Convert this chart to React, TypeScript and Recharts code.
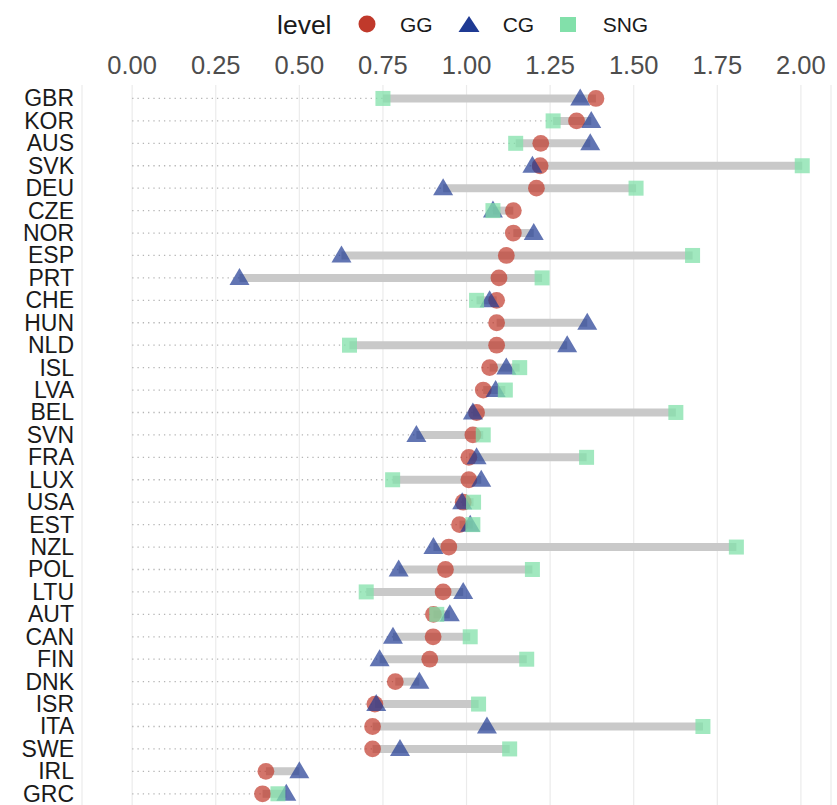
import React from 'react'
import {
  CartesianGrid,
  Scatter,
  ScatterChart,
  XAxis,
  YAxis,
} from 'recharts'

// countries top -> bottom, ordered by GG
const countries = [
  'GBR', 'KOR', 'AUS', 'SVK', 'DEU', 'CZE', 'NOR', 'ESP', 'PRT', 'CHE', 'HUN',
  'NLD', 'ISL', 'LVA', 'BEL', 'SVN', 'FRA', 'LUX', 'USA', 'EST', 'NZL', 'POL',
  'LTU', 'AUT', 'CAN', 'FIN', 'DNK', 'ISR', 'ITA', 'SWE', 'IRL', 'GRC',
]

const gg = [
  1.387, 1.329, 1.222, 1.22, 1.209, 1.14, 1.14, 1.119, 1.097, 1.09, 1.09,
  1.09, 1.069, 1.05, 1.03, 1.019, 1.007, 1.007, 0.99, 0.979, 0.947, 0.937,
  0.93, 0.901, 0.9, 0.89, 0.787, 0.726, 0.719, 0.719, 0.4, 0.39,
]

const cg = [
  1.34, 1.373, 1.37, 1.197, 0.93, 1.079, 1.201, 0.626, 0.321, 1.069, 1.361,
  1.301, 1.119, 1.087, 1.019, 0.85, 1.03, 1.044, 0.987, 1.011, 0.901, 0.797,
  0.99, 0.95, 0.78, 0.74, 0.859, 0.73, 1.061, 0.801, 0.5, 0.461,
]

// no SNG mark for NOR, HUN, DNK, IRL
const sng: (number | null)[] = [
  0.75, 1.259, 1.147, 2.004, 1.507, 1.079, null, 1.676, 1.226, 1.03, null,
  0.65, 1.159, 1.116, 1.626, 1.05, 1.359, 0.779, 1.021, 1.019, 1.807, 1.197,
  0.7, 0.911, 1.011, 1.18, null, 1.036, 1.707, 1.129, null, 0.436,
]

const xTicks = [0, 0.25, 0.5, 0.75, 1, 1.25, 1.5, 1.75, 2]

const GG_COLOR = '#C0392B'
const CG_COLOR = '#1F3A93'
const SNG_COLOR = '#82E0AA'
const FONT = '"Liberation Sans", Arial, sans-serif'

const toPoints = (vals: (number | null)[]) =>
  vals
    .map((v, i) => (v == null ? null : { x: v, y: i }))
    .filter(Boolean) as { x: number; y: number }[]

const ranges = countries.map((_, i) => {
  const vals = [gg[i], cg[i], sng[i]].filter((v) => v != null) as number[]
  return { lo: Math.min(...vals), hi: Math.max(...vals) }
})

const Empty = () => <g />

const CircleShape = (p: any) => (
  <circle cx={p.cx} cy={p.cy} r={8.4} fill={GG_COLOR} fillOpacity={0.7} />
)

const TriangleShape = (p: any) => (
  <polygon
    points={`${p.cx},${p.cy - 10} ${p.cx + 10},${p.cy + 7} ${p.cx - 10},${p.cy + 7}`}
    fill={CG_COLOR}
    fillOpacity={0.7}
  />
)

const SquareShape = (p: any) => (
  <rect
    x={p.cx - 7.5}
    y={p.cy - 7.5}
    width={15}
    height={15}
    fill={SNG_COLOR}
    fillOpacity={0.75}
  />
)

const XTick = (p: any) => (
  <text
    x={p.x}
    y={74}
    textAnchor="middle"
    fontSize={25.5}
    fontFamily={FONT}
    fill="#4d4d4d"
  >
    {p.payload.value.toFixed(2)}
  </text>
)

const YTick = (p: any) => (
  <text
    x={74}
    y={p.y}
    dy={8}
    textAnchor="end"
    fontSize={23}
    fontFamily={FONT}
    fill="#1a1a1a"
  >
    {countries[p.payload.value]}
  </text>
)

function LegendBar() {
  return (
    <svg
      width={837}
      height={45}
      style={{ position: 'absolute', left: 0, top: 0 }}
      fontFamily={FONT}
    >
      <text x={277} y={34} fontSize={26.5} fill="#1a1a1a">
        level
      </text>
      <circle cx={367} cy={24} r={8.5} fill={GG_COLOR} />
      <text x={400} y={32.3} fontSize={21} fill="#1a1a1a">
        GG
      </text>
      <polygon points="469,16 479.5,32 458.5,32" fill={CG_COLOR} />
      <text x={502.7} y={32.3} fontSize={21} fill="#1a1a1a">
        CG
      </text>
      <rect x={560} y={17} width={16} height={15} fill={SNG_COLOR} />
      <text x={602.7} y={32.3} fontSize={21} fill="#1a1a1a">
        SNG
      </text>
    </svg>
  )
}

export default function App() {
  return (
    <div style={{ position: 'absolute', left: 0, top: 0, width: 837, height: 805, background: '#fff' }}>
      <ScatterChart
        width={837}
        height={805}
        margin={{ top: 55, right: 6, bottom: 0, left: 0 }}
      >
        <CartesianGrid horizontal={false} stroke="#ebebeb" strokeWidth={1.2} />
        <XAxis
          type="number"
          dataKey="x"
          orientation="top"
          domain={[-0.15, 2.09]}
          ticks={xTicks}
          allowDataOverflow
          axisLine={false}
          tickLine={false}
          height={30}
          tick={<XTick />}
        />
        <YAxis
          type="number"
          dataKey="y"
          domain={[-0.6, 31.5]}
          ticks={countries.map((_, i) => i)}
          reversed
          allowDataOverflow
          axisLine={false}
          tickLine={false}
          width={82}
          interval={0}
          tick={<YTick />}
        />
        {ranges.map((r, i) => (
          <Scatter
            key={'dot' + i}
            data={[
              { x: 0, y: i },
              { x: r.lo, y: i },
            ]}
            line={{ stroke: '#b5b5b5', strokeWidth: 1.3, strokeDasharray: '1.3 4' }}
            shape={Empty}
            isAnimationActive={false}
          />
        ))}
        {ranges.map((r, i) => (
          <Scatter
            key={'bar' + i}
            data={[
              { x: r.lo, y: i },
              { x: r.hi, y: i },
            ]}
            line={{ stroke: '#c9c9c9', strokeWidth: 8 }}
            shape={Empty}
            isAnimationActive={false}
          />
        ))}
        <Scatter data={toPoints(gg)} shape={CircleShape} isAnimationActive={false} />
        <Scatter data={toPoints(cg)} shape={TriangleShape} isAnimationActive={false} />
        <Scatter data={toPoints(sng)} shape={SquareShape} isAnimationActive={false} />
      </ScatterChart>
      <LegendBar />
    </div>
  )
}
